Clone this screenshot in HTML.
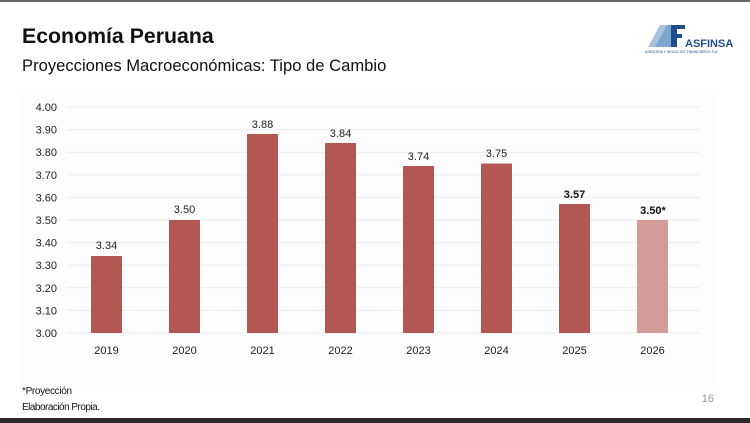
<!DOCTYPE html>
<html><head><meta charset="utf-8"><style>
body{margin:0;width:750px;height:423px;overflow:hidden;background:#fff;font-family:"Liberation Sans",sans-serif;position:relative}
</style></head><body>
<div style="position:absolute;left:0;top:0;width:750px;height:2px;background:#666"></div>
<div style="position:absolute;left:0;top:418px;width:750px;height:5px;background:#2a2a2a"></div>
<div style="position:absolute;left:22px;top:24px;font-size:21.3px;font-weight:bold;color:#111">Economía Peruana</div>
<div style="position:absolute;left:22px;top:56px;font-size:16.6px;color:#111">Proyecciones Macroeconómicas: Tipo de Cambio</div>
<svg style="position:absolute;left:0;top:0" width="750" height="423">
<rect x="19" y="90" width="697" height="300" fill="#fdfdfd"/>
<g font-family="Liberation Sans,sans-serif">
<polygon points="648,47 660,25 668,25 656,47" fill="#a9c3dc"/>
<polygon points="655,47 667,25 671,25 671,47" fill="#7fa6cc"/>
<rect x="671" y="25" width="6" height="22" fill="#1f4e8c"/>
<rect x="671" y="25" width="14" height="4" fill="#1f4e8c"/>
<rect x="671" y="34" width="11" height="4" fill="#1f4e8c"/>
<text x="685" y="47" font-size="11" font-weight="bold" fill="#1f4e8c">ASFINSA</text>
<text x="645" y="53" font-size="3.5" fill="#1f4e8c">ASESORIA Y NEGOCIOS FINANCIEROS S.A.</text>
</g>
<g stroke="#ececec" stroke-width="1">
<line x1="67" x2="700" y1="107" y2="107"/><line x1="67" x2="700" y1="129.6" y2="129.6"/><line x1="67" x2="700" y1="152.2" y2="152.2"/><line x1="67" x2="700" y1="174.8" y2="174.8"/><line x1="67" x2="700" y1="197.4" y2="197.4"/><line x1="67" x2="700" y1="220" y2="220"/><line x1="67" x2="700" y1="242.6" y2="242.6"/><line x1="67" x2="700" y1="265.2" y2="265.2"/><line x1="67" x2="700" y1="287.8" y2="287.8"/><line x1="67" x2="700" y1="310.4" y2="310.4"/><line x1="67" x2="700" y1="333" y2="333"/>
</g>
<g font-size="11" fill="#222" text-anchor="end">
<text x="57" y="111">4.00</text><text x="57" y="133.6">3.90</text><text x="57" y="156.2">3.80</text><text x="57" y="178.8">3.70</text><text x="57" y="201.4">3.60</text><text x="57" y="224">3.50</text><text x="57" y="246.6">3.40</text><text x="57" y="269.2">3.30</text><text x="57" y="291.8">3.20</text><text x="57" y="314.4">3.10</text><text x="57" y="337">3.00</text>
</g>
<g fill="#b25752">
<rect x="91" y="256" width="31" height="77"/>
<rect x="169" y="220" width="31" height="113"/>
<rect x="247" y="134" width="31" height="199"/>
<rect x="325" y="143" width="31" height="190"/>
<rect x="403" y="166" width="31" height="167"/>
<rect x="481" y="163.5" width="31" height="169.5"/>
<rect x="559" y="204" width="31" height="129"/>
<rect x="637" y="220" width="31" height="113" fill="#d39c99"/>
</g>
<g font-size="11" fill="#222" text-anchor="middle">
<text x="106.5" y="249">3.34</text><text x="184.5" y="213">3.50</text><text x="262.5" y="128">3.88</text><text x="340.5" y="137">3.84</text><text x="418.5" y="160">3.74</text><text x="496.5" y="157">3.75</text>
<text x="574.5" y="198" font-weight="bold" fill="#111">3.57</text><text x="653" y="214" font-weight="bold" fill="#111">3.50*</text>
<text x="106.5" y="354">2019</text><text x="184.5" y="354">2020</text><text x="262.5" y="354">2021</text><text x="340.5" y="354">2022</text><text x="418.5" y="354">2023</text><text x="496.5" y="354">2024</text><text x="574.5" y="354">2025</text><text x="652.5" y="354">2026</text>
</g>
<text x="22" y="394" font-size="10" fill="#111" textLength="50">*Proyección</text>
<text x="22" y="410" font-size="10" fill="#111" textLength="78">Elaboración Propia.</text>
<text x="714" y="402" font-size="11" fill="#999" text-anchor="end">16</text>
</svg>
</body></html>
